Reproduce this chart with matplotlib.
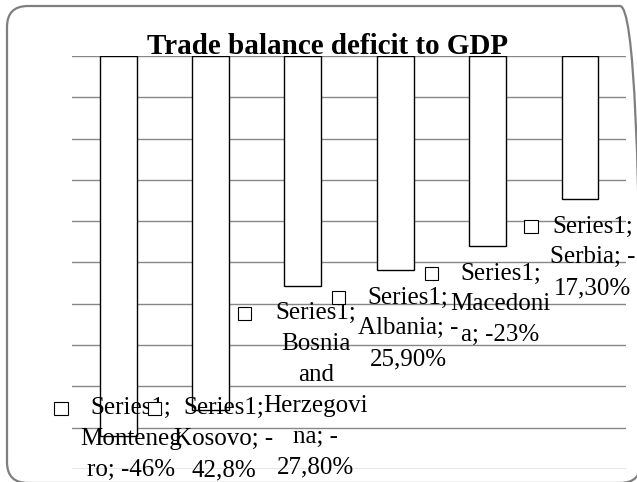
import matplotlib
matplotlib.use("Agg")
import matplotlib.pyplot as plt
from matplotlib.patches import FancyBboxPatch, Rectangle
from matplotlib.offsetbox import AnnotationBbox, DrawingArea, HPacker, TextArea, VPacker

# Trade balance deficit as share of GDP (%)
countries = ["Montenegro", "Kosovo", "Bosnia and Herzegovina", "Albania", "Macedonia", "Serbia"]
deficit = [-46.0, -42.8, -27.8, -25.9, -23.0, -17.3]
decimals = [0, 1, 2, 2, 0, 2]
series_name = "Series1"

# how each data label wraps; {v} is the signed value, {a} the value without sign
label_templates = [
    ["{s};", "Monteneg", "ro; {v}%"],
    ["{s};", "Kosovo; -", "{a}%"],
    ["{s};", "Bosnia", "and", "Herzegovi", "na; -", "{a}%"],
    ["{s};", "Albania; -", "{a}%"],
    ["{s};", "Macedoni", "a; {v}%"],
    ["{s};", "Serbia; -", "{a}%"],
]

SERIF = "Liberation Serif"
text_props = dict(family=SERIF, fontsize=18, color="black")

fig = plt.figure(figsize=(6.37, 4.82), dpi=100)
ax = fig.add_axes([0.113, 0.027, 0.870, 0.857])

x = list(range(len(countries)))
ax.bar(x, deficit, width=0.4, color="white", edgecolor="black", linewidth=1.0, zorder=2)

ax.set_xlim(-0.5, len(countries) - 0.5)
ax.set_ylim(-50, 0)
ax.set_yticks(range(-50, 1, 5))
ax.yaxis.grid(True, color="#878787", linewidth=1.0)
ax.set_axisbelow(True)
ax.tick_params(length=0, labelleft=False, labelbottom=False)
for sp in ax.spines.values():
    sp.set_visible(False)


def fmt(v, d):
    return f"{v:.{d}f}".replace(".", ",")


# data labels with a legend key beside the first line
for i, (v, d, tpl) in enumerate(zip(deficit, decimals, label_templates)):
    lines = [t.format(s=series_name, v=fmt(v, d), a=fmt(abs(v), d)) for t in tpl]
    block = VPacker(children=[TextArea(l, textprops=text_props) for l in lines],
                    align="center", pad=0, sep=6.4)
    key = DrawingArea(9.5, 9.5)
    key.add_artist(Rectangle((0, 0), 9.5, 9.5, facecolor="white", edgecolor="black", linewidth=0.8))
    key_col = HPacker(children=[key, TextArea("", textprops=text_props)], align="center", pad=0, sep=0)
    group = HPacker(children=[key_col, block], align="top", pad=0, sep=9)
    anchor = max(v, -39.3)
    ab = AnnotationBbox(group, (i, anchor), xybox=(0, -12), xycoords="data",
                        boxcoords="offset points", box_alignment=(0.5, 1.0),
                        frameon=False, pad=0, annotation_clip=False, zorder=5)
    ax.add_artist(ab)

fig.text(0.514, 0.889, "Trade balance deficit to GDP", ha="center", va="baseline",
         family=SERIF, fontsize=21, fontweight="bold")

# rounded chart border
frame = FancyBboxPatch((0.07, -0.01), 6.34, 4.77,
                       boxstyle="round,pad=0,rounding_size=0.21",
                       transform=fig.dpi_scale_trans, facecolor="none",
                       edgecolor="#7f7f7f", linewidth=1.6, clip_on=False)
fig.patches.append(frame)

fig.savefig("out.png", dpi=100)
